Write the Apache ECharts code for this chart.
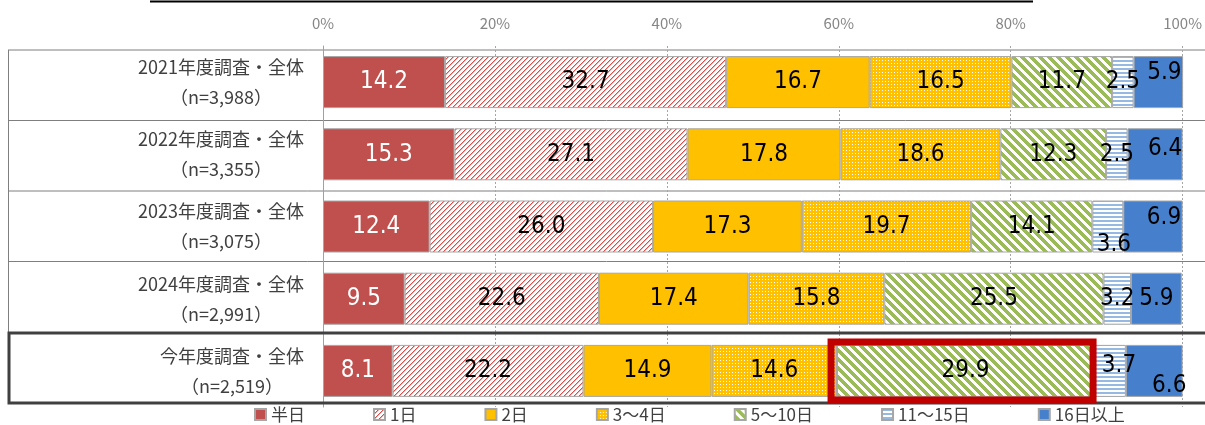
<!DOCTYPE html>
<html>
<head>
<meta charset="utf-8">
<script src="https://cdn.jsdelivr.net/npm/echarts@6/dist/echarts.min.js"></script>
<style>
  html, body { margin: 0; padding: 0; background: #fff; }
  #chart { width: 1205px; height: 425px; }
</style>
</head>
<body>
<div id="chart"></div>
<script>
// 調査区分（上から順）
const categories = [
  '2021年度調査・全体\n（n=3,988）',
  '2022年度調査・全体\n（n=3,355）',
  '2023年度調査・全体\n（n=3,075）',
  '2024年度調査・全体\n（n=2,991）',
  '今年度調査・全体\n（n=2,519）'
]
const seriesNames = ['半日', '1日', '2日', '3～4日', '5～10日', '11～15日', '16日以上']

// 各区分の割合（%）
const halfDay = [14.2, 15.3, 12.4, 9.5, 8.1]
const oneDay = [32.7, 27.1, 26.0, 22.6, 22.2]
const twoDays = [16.7, 17.8, 17.3, 17.4, 14.9]
const days3to4 = [16.5, 18.6, 19.7, 15.8, 14.6]
const days5to10 = [11.7, 12.3, 14.1, 25.5, 29.9]
const days11to15 = [2.5, 2.5, 3.6, 3.2, 3.7]
const days16plus = [5.9, 6.4, 6.9, 5.9, 6.6]
const allValues = [halfDay, oneDay, twoDays, days3to4, days5to10, days11to15, days16plus]

const xTicks = [0, 20, 40, 60, 80, 100]

// 強調枠（今年度・5～10日）
const highlightSeries = 4
const highlightRow = 4

// 小さい値のラベル位置の調整 [x, y]
const labelShift = {
  '6-0': [6, -9],
  '6-1': [10, -6],
  '5-2': [6, 18],
  '6-2': [11, -9],
  '5-4': [9, -5],
  '6-4': [15, 15]
}

const numFont = '"Liberation Sans Narrow", "DejaVu Sans Condensed", "Noto Sans CJK JP", sans-serif'
const jpFont = '"Noto Sans CJK JP", sans-serif'

// 模様の作成
function makePattern(w, h, draw) {
  const c = document.createElement('canvas')
  c.width = w
  c.height = h
  const ctx = c.getContext('2d')
  ctx.fillStyle = '#ffffff'
  ctx.fillRect(0, 0, w, h)
  draw(ctx)
  return { image: c, repeat: 'repeat' }
}

const patOneDay = makePattern(5, 5, (ctx) => {
  for (let i = 0; i < 5; i++) {
    ctx.fillStyle = '#d0504d'
    ctx.fillRect(i, 4 - i, 1, 1)
    ctx.fillStyle = '#eeb0ae'
    ctx.fillRect((i + 1) % 5, 4 - i, 1, 1)
  }
})
const patDays3to4 = makePattern(6, 6, (ctx) => {
  ctx.fillStyle = '#ffc000'
  ctx.fillRect(0, 0, 6, 6)
  ctx.fillStyle = '#ffffff'
  ctx.fillRect(0, 0, 1, 1)
  ctx.fillRect(3, 3, 1, 1)
  ctx.fillRect(3, 0, 1, 1)
  ctx.fillRect(0, 3, 1, 1)
})
const patDays5to10 = makePattern(9, 9, (ctx) => {
  ctx.fillStyle = '#9bbb59'
  for (let y = 0; y < 9; y++) {
    for (let x = 0; x < 9; x++) {
      if ((((x - y) % 9) + 9) % 9 < 5) ctx.fillRect(x, y, 1, 1)
    }
  }
})
const patDays11to15 = makePattern(4, 4, (ctx) => {
  ctx.fillStyle = '#95b9e3'
  ctx.fillRect(0, 0, 4, 2)
})

const fills = ['#c0504d', patOneDay, '#ffc000', patDays3to4, patDays5to10, patDays11to15, '#4680cc']
const labelColors = ['#ffffff', '#000', '#000', '#000', '#000', '#000', '#000']

const chart = echarts.init(document.getElementById('chart'))

const gridLeft = 323
const gridRight = 21
const gridTop = 46
const gridBottom = 18

const series = seriesNames.map((name, si) => ({
  name: name,
  type: 'bar',
  stack: 'total',
  barWidth: 52,
  itemStyle: {
    color: fills[si],
    borderColor: '#a6a6a6',
    borderWidth: 1
  },
  label: {
    show: true,
    position: 'inside',
    fontFamily: numFont,
    fontSize: 24,
    color: labelColors[si],
    formatter: (p) => Number(p.value).toFixed(1)
  },
  data: allValues[si].map((v, di) => {
    const shift = labelShift[si + '-' + di]
    return shift ? { value: v, label: { offset: shift } } : v
  })
}))

// 表の罫線
const rowLines = [50, 120.5, 191, 261.5]
const graphics = [
  {
    type: 'line',
    shape: { x1: 150, y1: 1.5, x2: 1033, y2: 1.5 },
    style: { stroke: '#000', lineWidth: 2 },
    silent: true
  },
  ...rowLines.map((y) => ({
    type: 'line',
    shape: { x1: 8, y1: y, x2: 1205, y2: y },
    style: { stroke: '#7f7f7f', lineWidth: 1 },
    silent: true,
    z: 0
  })),
  {
    type: 'line',
    shape: { x1: 8.5, y1: 50, x2: 8.5, y2: 333 },
    style: { stroke: '#7f7f7f', lineWidth: 1 },
    silent: true
  },
  {
    type: 'rect',
    shape: { x: 9, y: 333, width: 1205, height: 70 },
    style: { fill: null, stroke: '#404040', lineWidth: 3 },
    silent: true,
    z: 5
  }
]

const option = {
  animation: false,
  backgroundColor: '#fff',
  grid: {
    left: gridLeft,
    right: gridRight,
    top: gridTop,
    bottom: gridBottom,
    containLabel: false
  },
  legend: {
    data: seriesNames,
    left: 254,
    top: 406,
    padding: 0,
    icon: 'rect',
    itemWidth: 11,
    itemHeight: 11,
    itemGap: 68,
    textStyle: {
      fontFamily: jpFont,
      fontSize: 17,
      color: '#404040'
    }
  },
  xAxis: {
    type: 'value',
    position: 'top',
    min: xTicks[0],
    max: xTicks[xTicks.length - 1],
    interval: xTicks[1] - xTicks[0],
    axisLine: { show: false },
    axisTick: { show: false },
    axisLabel: {
      formatter: '{value}%',
      fontFamily: jpFont,
      fontSize: 15,
      color: '#858585',
      margin: 15
    },
    splitLine: {
      show: true,
      lineStyle: { color: '#a6a6a6', type: [2, 2], width: 1 }
    }
  },
  yAxis: {
    type: 'category',
    inverse: true,
    data: categories,
    axisLine: { show: true, lineStyle: { color: '#a0a0a0', width: 1 } },
    axisTick: { show: false },
    axisLabel: {
      align: 'center',
      margin: 102,
      formatter: (val, idx) => {
        const lines = val.split('\n')
        const key = idx === categories.length - 1 ? 'b' : 'a'
        return lines.map((l) => '{' + key + '|' + l + '}').join('\n')
      },
      rich: {
        a: {
          fontFamily: jpFont,
          fontSize: 18,
          color: '#404040',
          lineHeight: 30
        },
        b: {
          fontFamily: jpFont,
          fontSize: 18,
          color: '#404040',
          lineHeight: 30,
          padding: [0, 0, 0, 22]
        }
      }
    }
  },
  graphic: graphics,
  series: series
}

chart.setOption(option)

// 強調枠を今年度の5～10日の棒に合わせて描く
let start = 0
for (let i = 0; i < highlightSeries; i++) start += allValues[i][highlightRow]
const end = start + allValues[highlightSeries][highlightRow]
const p0 = chart.convertToPixel({ gridIndex: 0 }, [start, highlightRow])
const p1 = chart.convertToPixel({ gridIndex: 0 }, [end, highlightRow])
const half = 26
graphics.push({
  type: 'rect',
  shape: { x: p0[0] - 6, y: p0[1] - half - 3, width: p1[0] - p0[0] + 5, height: half * 2 + 6 },
  style: { fill: null, stroke: '#c00000', lineWidth: 7 },
  silent: true,
  z: 10
})
chart.setOption({ graphic: graphics })
</script>
</body>
</html>
